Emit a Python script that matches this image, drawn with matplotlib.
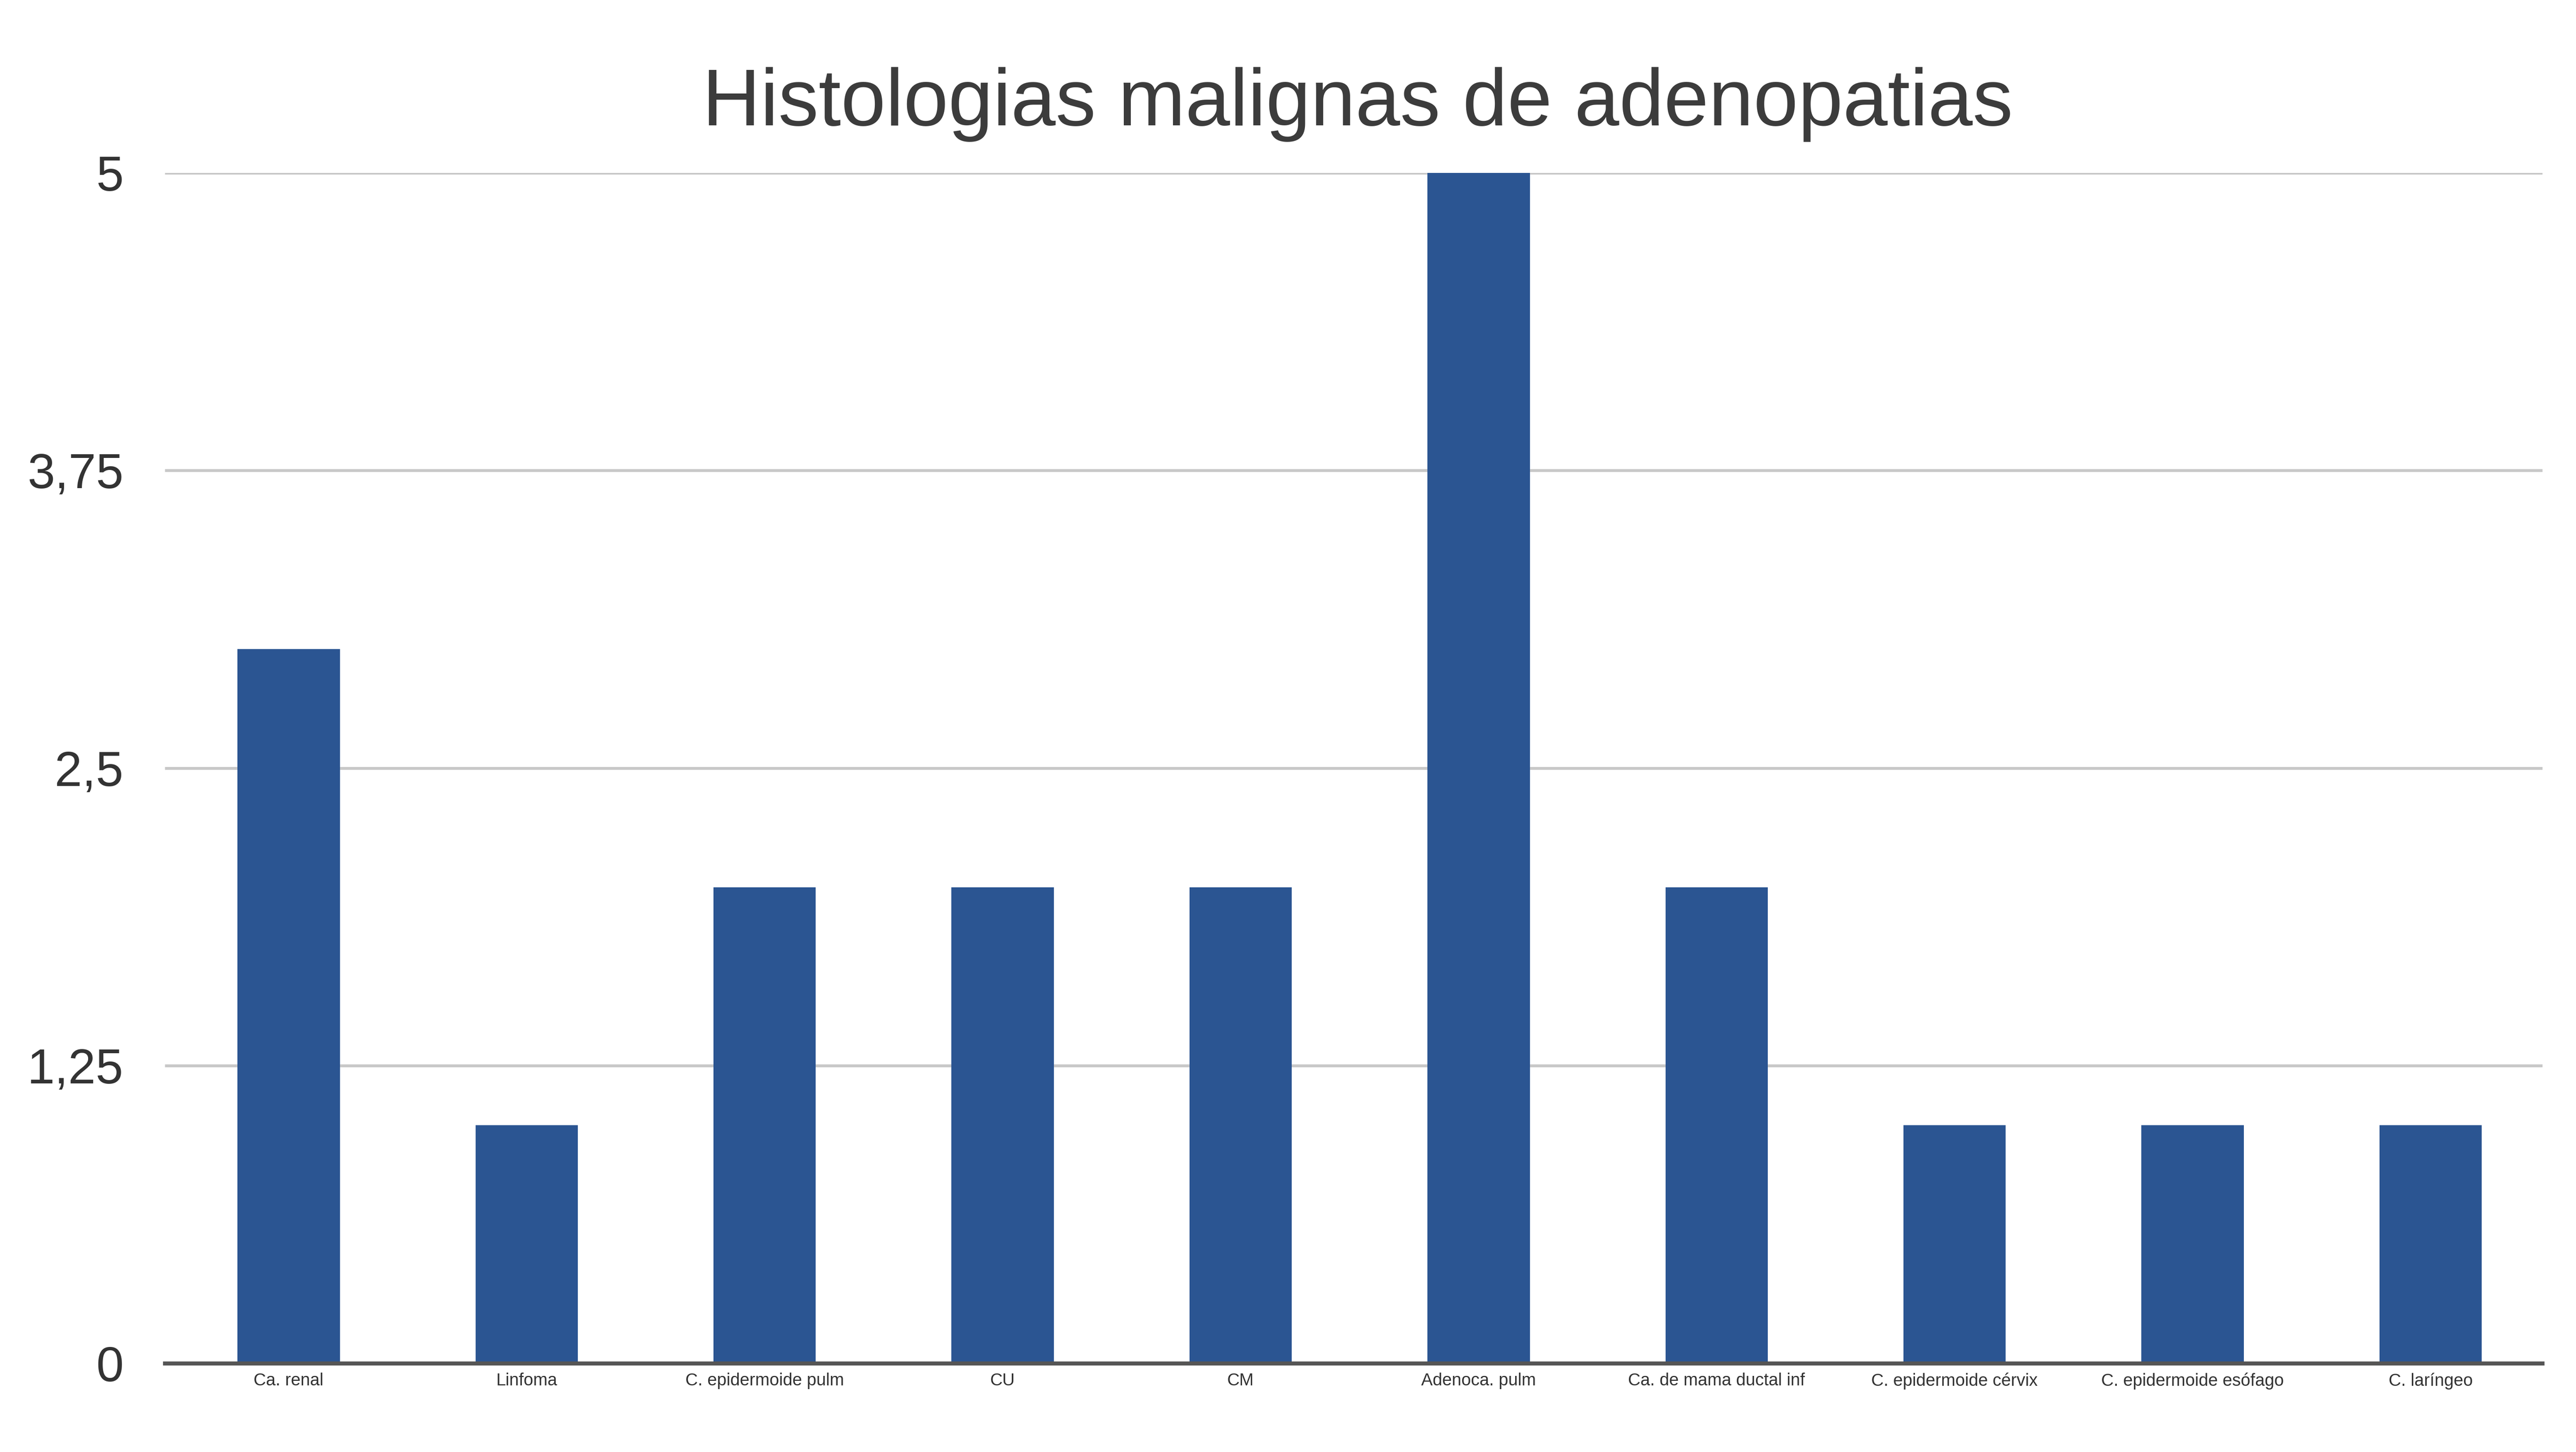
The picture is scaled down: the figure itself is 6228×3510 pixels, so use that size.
import matplotlib
matplotlib.use("Agg")
import matplotlib.pyplot as plt
from matplotlib.ticker import FixedLocator, FixedFormatter

# Malignant histologies found in lymph node biopsies (number of cases)
categories = ["Ca. renal", "Linfoma", "C. epidermoide pulm", "CU", "CM",
              "Adenoca. pulm", "Ca. de mama ductal inf", "C. epidermoide cérvix",
              "C. epidermoide esófago", "C. laríngeo"]
cases = [3, 1, 2, 2, 2, 5, 2, 1, 1, 1]
y_ticks = [0, 1.25, 2.5, 3.75, 5]
y_tick_labels = ["0", "1,25", "2,5", "3,75", "5"]

plt.rcParams["font.family"] = ["Liberation Sans", "DejaVu Sans"]

fig = plt.figure(figsize=(62.28, 35.1), dpi=100)
ax = fig.add_axes([0.064, 0.061, 0.923, 0.82])

x = range(len(categories))
ax.bar(x, cases, width=0.43, color="#2b5592", zorder=3)

ax.set_xlim(-0.52, 9.47)
ax.set_ylim(0, 5)
ax.yaxis.set_major_locator(FixedLocator(y_ticks))
ax.yaxis.set_major_formatter(FixedFormatter(y_tick_labels))
ax.set_xticks(list(x))
ax.set_xticklabels(categories, fontsize=30, color="#333333")

ax.grid(axis="y", color="#c8c8c8", linewidth=5, zorder=0)
ax.tick_params(axis="y", length=0, labelsize=86, labelcolor="#333333", pad=72)
ax.tick_params(axis="x", length=0, pad=16)
for side in ["top", "right", "left"]:
    ax.spines[side].set_visible(False)
ax.spines["bottom"].set_color("#555555")
ax.spines["bottom"].set_linewidth(7)
ax.spines["bottom"].set_zorder(4)

fig.text(0.527, 0.928, "Histologias malignas de adenopatias", ha="center", va="center",
         fontsize=140, color="#3c3c3c")

fig.savefig("out.png", dpi=100, facecolor="white")
